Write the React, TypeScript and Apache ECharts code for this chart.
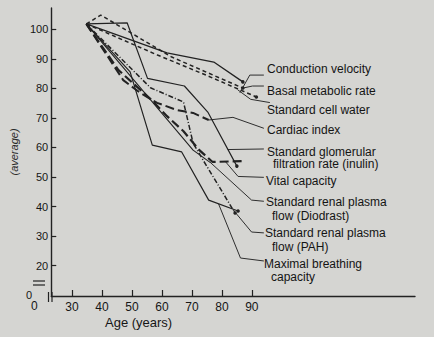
import React, { useEffect, useRef } from "react";
import * as echarts from "echarts";

// ---- data (age in years, value in % "average") ----
const cvAge = [34.8, 61.7, 77.3, 87.0];
const cvVal = [101.8, 92.0, 88.9, 82.2];
const bmrAge = [34.8, 39.6, 63.3, 87.0];
const bmrVal = [101.8, 104.8, 90.6, 80.1];
const cwAge = [34.8, 58.5, 74.7, 91.5];
const cwVal = [101.8, 91.3, 84.5, 77.1];
const ciAge = [34.8, 47.1, 52.9, 58.4, 64.9, 70.4, 75.6];
const ciVal = [101.8, 82.8, 78.4, 75.1, 72.7, 71.7, 69.3];
const gfrAge = [34.8, 48.4, 55.2, 67.5, 75.3, 85.0];
const gfrVal = [101.8, 102.2, 83.4, 80.8, 72.0, 53.7];
const vcAge = [34.8, 45.5, 56.2, 61.7, 67.2, 72.4, 76.9, 86.6];
const vcVal = [101.8, 86.2, 76.4, 70.6, 65.5, 59.2, 55.1, 55.4];
const rpfdAge = [34.8, 70.4, 76.3];
const rpfdVal = [101.8, 59.1, 54.8];
const pahAge = [34.8, 56.2, 67.2, 70.4, 73.7, 84.4];
const pahVal = [101.8, 80.2, 75.4, 61.5, 55.8, 37.8];
const mbcAge = [34.8, 49.4, 56.8, 66.6, 75.6, 85.4];
const mbcVal = [101.8, 85.6, 60.8, 58.5, 42.2, 38.5];

// leader lines [ages], [values]
const leadCvAge = [86.0, 89.3, 94.0];
const leadCvVal = [78.5, 84.5, 84.5];
const leadBmrAge = [87.0, 90.2, 94.0];
const leadBmrVal = [80.1, 80.8, 80.8];
const leadCwAge = [85.3, 89.6, 96.0];
const leadCwVal = [79.5, 76.3, 75.2];
const leadCiAge = [75.6, 83.7, 94.0];
const leadCiVal = [69.3, 70.2, 66.5];
const leadGfrAge = [82.0, 94.0];
const leadGfrVal = [59.3, 59.5];
const leadVcAge = [81.2, 85.4, 94.0];
const leadVcVal = [55.2, 50.2, 49.9];
const leadRpfdAge = [76.3, 89.9, 94.0];
const leadRpfdVal = [54.8, 42.2, 41.8];
const leadPahAge = [84.0, 89.9, 94.0];
const leadPahVal = [38.6, 31.4, 31.1];
const leadMbcAge = [78.9, 86.2, 94.0];
const leadMbcVal = [40.9, 22.6, 21.6];

const yTicks = [20, 30, 40, 50, 60, 70, 80, 90, 100];
const xTicks = [30, 40, 50, 60, 70, 80, 90];

const labels: [string, number, number][] = [
  ["Conduction velocity", 267, 69],
  ["Basal metabolic rate", 267, 90.5],
  ["Standard cell water", 267, 110],
  ["Cardiac index", 267, 130],
  ["Standard glomerular", 267, 151.5],
  ["filtration rate (inulin)", 273, 164],
  ["Vital capacity", 266, 180.5],
  ["Standard renal plasma", 266, 202],
  ["flow (Diodrast)", 272, 216],
  ["Standard renal plasma", 265, 233],
  ["flow (PAH)", 272, 246.5],
  ["Maximal breathing", 264, 264],
  ["capacity", 271, 277],
];

const INK = "#222222";
const pairs = (a: number[], v: number[]) => a.map((x, i) => [x, v[i]]);

function dataSeries(a: number[], v: number[], type: any, width: number, dot = true) {
  const last = a.length - 1;
  return {
    type: "line",
    data: pairs(a, v),
    symbol: "circle",
    symbolSize: (_v: any, p: any) => (dot && p.dataIndex === last ? 3.5 : 0),
    itemStyle: { color: INK },
    lineStyle: { color: INK, width, type },
    silent: true,
    z: 3,
  };
}
function leadSeries(a: number[], v: number[]) {
  return {
    type: "line",
    data: pairs(a, v),
    symbol: "none",
    lineStyle: { color: "#2e2e2e", width: 1 },
    silent: true,
    z: 2,
  };
}

export default function App() {
  const ref = useRef<HTMLDivElement>(null);
  useEffect(() => {
    const chart = echarts.init(ref.current!, undefined, { renderer: "svg" });
    const font = "'Liberation Sans', Arial, sans-serif";
    chart.setOption({
      animation: false,
      backgroundColor: "#d5d5d2",
      grid: { left: 41, right: 19, top: 8, bottom: 41 },
      xAxis: {
        type: "value",
        min: 23.1,
        max: 144.4,
        splitLine: { show: false },
        axisLine: { lineStyle: { color: INK, width: 1.4 } },
        axisTick: { show: true, inside: true, length: 6, customValues: xTicks, lineStyle: { color: INK, width: 1.2 } },
        axisLabel: { customValues: xTicks, color: "#161616", fontSize: 12, margin: 5, fontFamily: font },
      },
      yAxis: {
        type: "value",
        min: 9.75,
        max: 107.2,
        splitLine: { show: false },
        name: "(average)",
        nameLocation: "middle",
        nameRotate: 90,
        nameGap: 25,
        nameTextStyle: { fontStyle: "italic", fontSize: 11, color: "#2a2a2a", fontFamily: font },
        axisLine: { lineStyle: { color: INK, width: 1.4 } },
        axisTick: { show: true, inside: true, length: 5, customValues: yTicks, lineStyle: { color: INK, width: 1.2 } },
        axisLabel: { customValues: yTicks, color: "#161616", fontSize: 11, margin: 3, fontFamily: font },
      },
      graphic: [
        { type: "line", shape: { x1: 33, y1: 281, x2: 45, y2: 281 }, style: { stroke: INK, lineWidth: 1.2 } },
        { type: "line", shape: { x1: 33, y1: 285, x2: 45, y2: 285 }, style: { stroke: INK, lineWidth: 1.2 } },
        { type: "line", shape: { x1: 48.5, y1: 292, x2: 48.5, y2: 302 }, style: { stroke: INK, lineWidth: 1.2 } },
        { type: "line", shape: { x1: 52, y1: 292, x2: 52, y2: 302 }, style: { stroke: INK, lineWidth: 1.2 } },
        { type: "text", x: 26, y: 295, style: { text: "0", fill: "#161616", font: `11px ${font}`, verticalAlign: "middle" } },
        { type: "text", x: 31, y: 306, style: { text: "0", fill: "#161616", font: `12px ${font}`, verticalAlign: "middle" } },
        { type: "text", x: 105, y: 322.5, style: { text: "Age (years)", fill: "#161616", font: `13px ${font}`, verticalAlign: "middle" } },
        ...labels.map(([t, x, y]) => ({
          type: "text",
          x,
          y,
          style: { text: t, fill: "#141414", font: `12px ${font}`, verticalAlign: "middle" },
        })),
      ],
      series: [
        dataSeries(cvAge, cvVal, "solid", 1.3),
        dataSeries(bmrAge, bmrVal, [4, 3], 1.5),
        dataSeries(cwAge, cwVal, [4, 3], 1.5),
        dataSeries(ciAge, ciVal, [9, 4], 2, false),
        dataSeries(gfrAge, gfrVal, "solid", 1.2),
        dataSeries(vcAge, vcVal, [9, 4], 2.2, false),
        dataSeries(rpfdAge, rpfdVal, "solid", 1.1, false),
        dataSeries(pahAge, pahVal, [5, 2, 1, 2], 1.5),
        dataSeries(mbcAge, mbcVal, "solid", 1.2),
        leadSeries(leadCvAge, leadCvVal),
        leadSeries(leadBmrAge, leadBmrVal),
        leadSeries(leadCwAge, leadCwVal),
        leadSeries(leadCiAge, leadCiVal),
        leadSeries(leadGfrAge, leadGfrVal),
        leadSeries(leadVcAge, leadVcVal),
        leadSeries(leadRpfdAge, leadRpfdVal),
        leadSeries(leadPahAge, leadPahVal),
        leadSeries(leadMbcAge, leadMbcVal),
      ],
    });
    return () => chart.dispose();
  }, []);
  return <div ref={ref} style={{ position: "fixed", left: 0, top: 0, width: 434, height: 337 }} />;
}
